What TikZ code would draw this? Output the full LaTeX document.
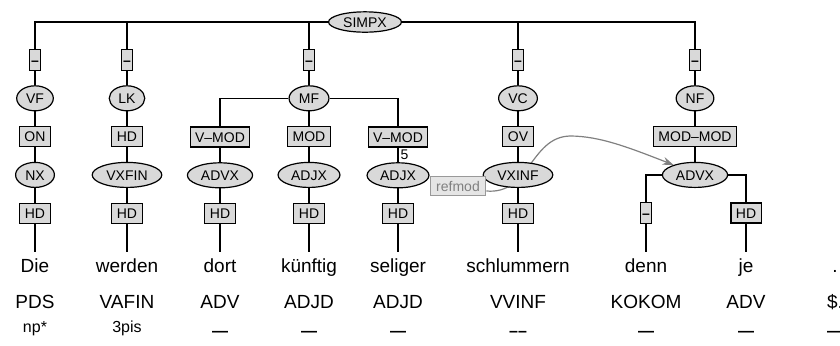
\documentclass[tikz,border=0pt]{standalone}
\usepackage{fontspec}
\setmainfont{Liberation Sans}
\usetikzlibrary{shapes.geometric, arrows, arrows.meta, positioning}
\pgfdeclarelayer{background}
\pgfsetlayers{background,main}
\tikzstyle{cat} = [ellipse, draw=black, fill=black!15, line width=0.6pt, inner xsep=2pt, inner ysep=1pt, minimum height=12.5pt, text height=5.2pt, text depth=0pt, font=\fontsize{7}{8}\selectfont]
\tikzstyle{func} = [rectangle, draw=black, fill=black!15, line width=0.6pt, inner xsep=2.5pt, inner ysep=0pt, minimum height=10pt, text height=5.2pt, text depth=0pt, font=\fontsize{7}{8}\selectfont]
\tikzstyle{nofunc} = [func, inner xsep=0pt, minimum width=5.5pt, minimum height=10.5pt]
\tikzstyle{secfunc} = [func, draw=black!40, fill=black!10, text=black!50, inner xsep=3pt, minimum height=9.5pt, line width=0.5pt]
\tikzstyle{word} = [inner xsep=1pt, inner ysep=2.75pt, text height=7.5pt, text depth=2pt, font=\fontsize{9.5}{11}\selectfont]
\tikzstyle{tag} = [word]
\tikzstyle{morph} = [inner sep=1pt, text height=5.8pt, text depth=1.5pt, font=\fontsize{8}{9}\selectfont]
\tikzstyle{edge} = [line width=0.6pt]
\tikzstyle{secedge} = [line width=0.6pt, draw=black!50, ->, >={Stealth[length=5.5pt, width=4pt]}]
\newcommand{\nomorph}{\raisebox{-2pt}{\textbf{---}}}
\newcommand{\nofuncmark}{\textbf{--}}

\begin{document}
\begin{tikzpicture}[x=0.5pt, y=-0.5pt, node distance=19.15pt]
	\useasboundingbox (0,0) rectangle (840,345);
	\node (simpx) [cat, minimum height=10pt] at (365,22) {SIMPX};
	% VF
	\node (vfdash) [nofunc] at (35,60) {\nofuncmark};
	\node (vf) [cat, below of=vfdash] {VF};
	\node (on) [func, below of=vf] {ON};
	\node (nx) [cat, below of=on] {NX};
	\node (hd1) [func, below of=nx] {HD};
	% LK
	\node (lkdash) [nofunc] at (127,60) {\nofuncmark};
	\node (lk) [cat, below of=lkdash] {LK};
	\node (hd2a) [func, below of=lk] {HD};
	\node (vxfin) [cat, below of=hd2a] {VXFIN};
	\node (hd2) [func, below of=vxfin] {HD};
	% MF
	\node (mfdash) [nofunc] at (309,60) {\nofuncmark};
	\node (mf) [cat, below of=mfdash] {MF};
	\node (vmod1) [func] at (220,137) {V--MOD};
	\node (advx1) [cat, below of=vmod1] {ADVX};
	\node (hd3) [func, below of=advx1] {HD};
	\node (mod) [func, below of=mf] {MOD};
	\node (adjx1) [cat, below of=mod] {ADJX};
	\node (hd4) [func, below of=adjx1] {HD};
	\node (vmod2) [func] at (398,137) {V--MOD};
	\node (adjx2) [cat, below of=vmod2] {ADJX};
	\node (hd5) [func, below of=adjx2] {HD};
	% VC
	\node (vcdash) [nofunc] at (518,60) {\nofuncmark};
	\node (vc) [cat, below of=vcdash] {VC};
	\node (ov) [func, below of=vc] {OV};
	\node (vxinf) [cat, below of=ov] {VXINF};
	\node (hd6) [func, below of=vxinf] {HD};
	\node (refmod) [secfunc] at (458,186) {refmod};
	% NF
	\node (nfdash) [nofunc] at (695,60) {\nofuncmark};
	\node (nf) [cat, below of=nfdash] {NF};
	\node (modmod) [func, below of=nf] {MOD--MOD};
	\node (advx2) [cat, below of=modmod] {ADVX};
	\node (dash7) [nofunc] at (646,213) {\nofuncmark};
	\node (hd8) [func] at (746,213) {HD};

	% words
	\node (w1) [word] at (35,267) {Die};
	\node (w2) [word] at (127,267) {werden};
	\node (w3) [word] at (220,267) {dort};
	\node (w4) [word] at (309,267) {künftig};
	\node (w5) [word] at (398,267) {seliger};
	\node (w6) [word] at (518,267) {schlummern};
	\node (w7) [word] at (646,267) {denn};
	\node (w8) [word] at (746,267) {je};
	\node (w9) [word] at (835,267) {.};
	% tags
	\node (t1) [tag] at (35,303) {PDS};
	\node (t2) [tag] at (127,303) {VAFIN};
	\node (t3) [tag] at (220,303) {ADV};
	\node (t4) [tag] at (309,303) {ADJD};
	\node (t5) [tag] at (398,303) {ADJD};
	\node (t6) [tag] at (518,303) {VVINF};
	\node (t7) [tag] at (646,303) {KOKOM};
	\node (t8) [tag] at (746,303) {ADV};
	\node (t9) [tag] at (835,303) {\$.};
	% morphology
	\node (m1) [morph] at (35,328) {np*};
	\node (m2) [morph] at (127,328) {3pis};
	\node (m3) [morph] at (220,328) {\nomorph};
	\node (m4) [morph] at (309,328) {\nomorph};
	\node (m5) [morph] at (398,328) {\nomorph};
	\node (m6) [morph] at (518,328) {\raisebox{-2pt}{\textbf{--{}--}}};
	\node (m7) [morph] at (646,328) {\nomorph};
	\node (m8) [morph] at (746,328) {\nomorph};
	\node (m9) [morph] at (835,328) {\nomorph};

	\draw [edge] (simpx) -| (vfdash);
	\draw [edge] (simpx) -| (lkdash);
	\draw [edge] (simpx) -| (mfdash);
	\draw [edge] (simpx) -| (vcdash);
	\draw [edge] (simpx) -| (nfdash);
	\draw [edge] (vfdash) -- (vf) -- (on) -- (nx) -- (hd1) -- (w1);
	\draw [edge] (lkdash) -- (lk) -- (hd2a) -- (vxfin) -- (hd2) -- (w2);
	\draw [edge] (mfdash) -- (mf);
	\draw [edge] (mf) -| (vmod1);
	\draw [edge] (mf) -- (mod);
	\draw [edge] (mf) -| (vmod2);
	\draw [edge] (vmod1) -- (advx1) -- (hd3) -- (w3);
	\draw [edge] (mod) -- (adjx1) -- (hd4) -- (w4);
	\draw [edge] (vmod2) -- node [anchor=north west, pos=0, inner sep=1pt, font=\fontsize{7}{8}\selectfont] {5} (adjx2) -- (hd5) -- (w5);
	\draw [edge] (vcdash) -- (vc) -- (ov) -- (vxinf) -- (hd6) -- (w6);
	\draw [edge] (nfdash) -- (nf) -- (modmod) -- (advx2);
	\draw [edge] (advx2) -| (dash7);
	\draw [edge] (advx2) -| (hd8);
	\draw [edge] (dash7) -- (w7);
	\draw [edge] (hd8) -- (w8);
	\begin{pgfonlayer}{background}
		\draw [secedge] (refmod.-10) .. controls (530,195) and (530,137) .. (570,136) .. controls (600,136) and (630,148) .. (advx2.155);
	\end{pgfonlayer}
\end{tikzpicture}
\end{document}
